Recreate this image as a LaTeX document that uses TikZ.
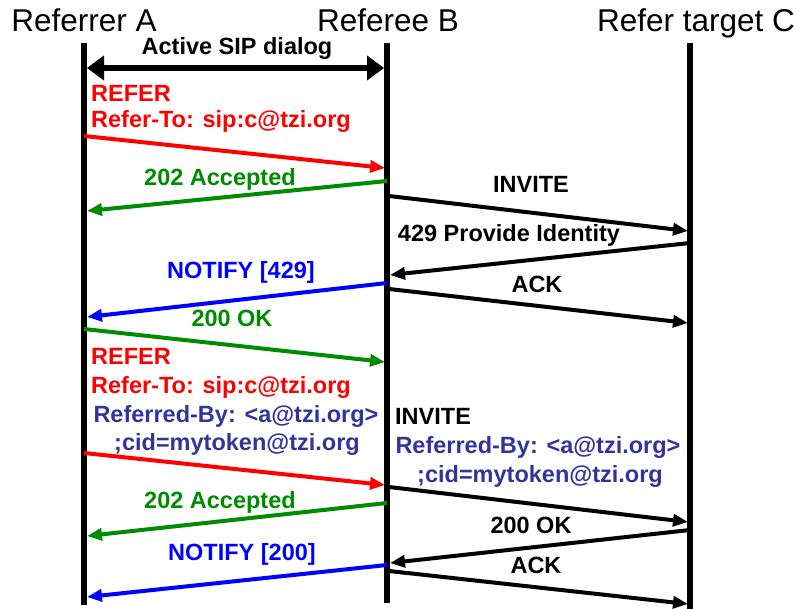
\documentclass[tikz,border=0pt]{standalone}
\usepackage{fontspec}
\setmainfont{Liberation Sans}
\usetikzlibrary{arrows.meta}
\definecolor{msgred}{RGB}{255,0,0}
\definecolor{msggreen}{RGB}{0,140,0}
\definecolor{msgblue}{RGB}{0,0,255}
\definecolor{hdrblue}{RGB}{51,51,153}

\begin{document}
\begin{tikzpicture}[
    x=1pt, y=-1pt,
    party/.style={font=\fontsize{31.5}{33}\selectfont, inner sep=0pt, anchor=base},
    lifeline/.style={line width=5.5pt},
    msg/.style={line width=4pt, -{Triangle[length=15pt,width=12pt]}},
    lbl/.style={font=\fontsize{23.5}{25}\selectfont\bfseries, inner sep=0pt, anchor=base},
    hdr/.style={lbl, text=hdrblue},
]
\useasboundingbox (0,0) rectangle (795,609);

% parties
\node[party] (pa) at (84,32) {Referrer A};
\node[party] (pb) at (388,32) {Referee B};
\node[party] (pc) at (696,32) {Refer target C};

\coordinate (a top) at (84,43);
\coordinate (a bot) at (84,605);
\coordinate (b top) at (387,43);
\coordinate (b bot) at (387,603);
\coordinate (c top) at (690,43);
\coordinate (c bot) at (690,609);
\draw[lifeline] (a top) -- (a bot);
\draw[lifeline] (b top) -- (b bot);
\draw[lifeline] (c top) -- (c bot);

% dialog
\coordinate (dlg l) at (87,68);
\coordinate (dlg r) at (384,68);
\draw[line width=6pt, {Triangle[length=17pt,width=24pt]}-{Triangle[length=17pt,width=24pt]}] (dlg l) -- (dlg r);
\node[lbl] (dlg) at (237,55) {Active SIP dialog};

% first attempt
\coordinate (refer1 s) at (84,136);   \coordinate (refer1 e) at (385,168);
\coordinate (acc1 s) at (387,181);    \coordinate (acc1 e) at (87,211);
\coordinate (inv1 s) at (389,196);    \coordinate (inv1 e) at (688,231);
\coordinate (rej s) at (690,243);     \coordinate (rej e) at (390,275);
\coordinate (ntf1 s) at (387,283);    \coordinate (ntf1 e) at (87,317);
\coordinate (ack1 s) at (389,289);    \coordinate (ack1 e) at (688,323);
\coordinate (ok1 s) at (84,329);      \coordinate (ok1 e) at (385,362);

\draw[msg, msgred] (refer1 s) -- (refer1 e);
\node[lbl, text=msgred, anchor=base west] (refer1) at (91,102) {REFER};
\node[lbl, text=msgred, anchor=base west] (referto1) at (91,128) {Refer-To: sip:c@tzi.org};
\draw[msg, msggreen] (acc1 s) -- (acc1 e);
\node[lbl, text=msggreen] (acc1) at (220,186) {202 Accepted};
\draw[msg] (inv1 s) -- (inv1 e);
\node[lbl] (inv1) at (531,193) {INVITE};
\draw[msg] (rej s) -- (rej e);
\node[lbl] (rej) at (509,242) {429 Provide Identity};
\draw[msg, msgblue] (ntf1 s) -- (ntf1 e);
\node[lbl, text=msgblue] (ntf1) at (241,279) {NOTIFY [429]};
\draw[msg] (ack1 s) -- (ack1 e);
\node[lbl] (ack1) at (537,293) {ACK};
\draw[msg, msggreen] (ok1 s) -- (ok1 e);
\node[lbl, text=msggreen] (ok1) at (232,327) {200 OK};

% second attempt
\coordinate (refer2 s) at (84,453);   \coordinate (refer2 e) at (385,485);
\coordinate (inv2 s) at (389,487);    \coordinate (inv2 e) at (688,522);
\coordinate (acc2 s) at (387,503);    \coordinate (acc2 e) at (87,536);
\coordinate (ok2 s) at (690,530);     \coordinate (ok2 e) at (390,563);
\coordinate (ntf2 s) at (387,565);    \coordinate (ntf2 e) at (87,597);
\coordinate (ack2 s) at (389,571);    \coordinate (ack2 e) at (688,604);

\node[lbl, text=msgred, anchor=base west] (refer2) at (91,365) {REFER};
\node[lbl, text=msgred, anchor=base west] (referto2) at (91,393) {Refer-To: sip:c@tzi.org};
\node[hdr] (refby1) at (236,422) {Referred-By: <a@tzi.org>};
\node[hdr] (cid1) at (237,450) {;cid=mytoken@tzi.org};
\draw[msg, msgred] (refer2 s) -- (refer2 e);
\node[lbl, anchor=base west] (inv2) at (395,424) {INVITE};
\node[hdr] (refby2) at (538,453) {Referred-By: <a@tzi.org>};
\node[hdr] (cid2) at (540,482) {;cid=mytoken@tzi.org};
\draw[msg] (inv2 s) -- (inv2 e);
\draw[msg, msggreen] (acc2 s) -- (acc2 e);
\node[lbl, text=msggreen] (acc2) at (220,508) {202 Accepted};
\draw[msg] (ok2 s) -- (ok2 e);
\node[lbl] (ok2) at (531,533) {200 OK};
\draw[msg, msgblue] (ntf2 s) -- (ntf2 e);
\node[lbl, text=msgblue] (ntf2) at (242,560) {NOTIFY [200]};
\draw[msg] (ack2 s) -- (ack2 e);
\node[lbl] (ack2) at (536,573) {ACK};
\end{tikzpicture}
\end{document}
